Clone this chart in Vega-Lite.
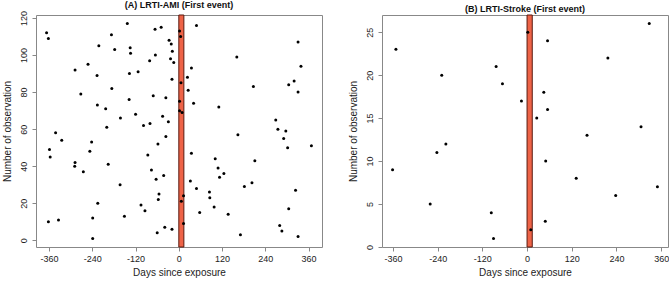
{
  "$schema": "https://vega.github.io/schema/vega-lite/v6.json",
  "padding": {"left": 1, "top": 0, "right": 1, "bottom": 0},
  "background": "white",
  "bounds": "flush",
  "spacing": 60,
  "datasets": {
    "band": [{"start": 0, "end": 14}],
    "a": [
      {"day": 49, "obs": 116}, {"day": -143, "obs": 117}, {"day": -49, "obs": 115}, {"day": -66, "obs": 114},
      {"day": 2, "obs": 113}, {"day": -367, "obs": 112}, {"day": -187, "obs": 111}, {"day": 5, "obs": 110},
      {"day": -362, "obs": 109}, {"day": -27, "obs": 108}, {"day": 331, "obs": 107}, {"day": -21, "obs": 106},
      {"day": -222, "obs": 105}, {"day": -135, "obs": 104}, {"day": -178, "obs": 103}, {"day": -18, "obs": 102},
      {"day": -134, "obs": 101}, {"day": -65, "obs": 100}, {"day": 161, "obs": 99}, {"day": -23, "obs": 98},
      {"day": -81, "obs": 97}, {"day": -14, "obs": 96}, {"day": -252, "obs": 95}, {"day": 339, "obs": 94},
      {"day": 35, "obs": 93}, {"day": -288, "obs": 92}, {"day": -113, "obs": 91}, {"day": -137, "obs": 90},
      {"day": -227, "obs": 89}, {"day": 24, "obs": 88}, {"day": -19, "obs": 87}, {"day": 320, "obs": 86},
      {"day": 6, "obs": 85}, {"day": 305, "obs": 84}, {"day": 207, "obs": 83}, {"day": -186, "obs": 82},
      {"day": 26, "obs": 81}, {"day": 331, "obs": 80}, {"day": -272, "obs": 79}, {"day": -71, "obs": 78},
      {"day": -36, "obs": 77}, {"day": -138, "obs": 76}, {"day": 2, "obs": 75}, {"day": 41, "obs": 74},
      {"day": -226, "obs": 73}, {"day": 111, "obs": 72}, {"day": -203, "obs": 71}, {"day": 2, "obs": 70},
      {"day": 9, "obs": 69}, {"day": -120, "obs": 68}, {"day": -45, "obs": 67}, {"day": -162, "obs": 66},
      {"day": 269, "obs": 65}, {"day": -29, "obs": 64}, {"day": -80, "obs": 63}, {"day": -98, "obs": 62},
      {"day": -200, "obs": 61}, {"day": 275, "obs": 60}, {"day": 297, "obs": 59}, {"day": -342, "obs": 58},
      {"day": 164, "obs": 57}, {"day": -36, "obs": 56}, {"day": 291, "obs": 55}, {"day": -325, "obs": 54},
      {"day": -242, "obs": 53}, {"day": -58, "obs": 52}, {"day": 368, "obs": 51}, {"day": 302, "obs": 50},
      {"day": -359, "obs": 49}, {"day": -247, "obs": 48}, {"day": 35, "obs": 47}, {"day": -86, "obs": 46},
      {"day": -357, "obs": 45}, {"day": 101, "obs": 44}, {"day": 211, "obs": 43}, {"day": -288, "obs": 42},
      {"day": -196, "obs": 41}, {"day": -289, "obs": 40}, {"day": 109, "obs": 39}, {"day": -76, "obs": 38},
      {"day": -265, "obs": 37}, {"day": 125, "obs": 36}, {"day": -42, "obs": 35}, {"day": 113, "obs": 34},
      {"day": -63, "obs": 33}, {"day": 32, "obs": 32}, {"day": 203, "obs": 31}, {"day": -163, "obs": 30},
      {"day": 182, "obs": 29}, {"day": 49, "obs": 28}, {"day": 324, "obs": 27}, {"day": 85, "obs": 26},
      {"day": -55, "obs": 25}, {"day": 13, "obs": 24}, {"day": 86, "obs": 23}, {"day": -57, "obs": 22},
      {"day": 7, "obs": 21}, {"day": -225, "obs": 20}, {"day": -105, "obs": 19}, {"day": 98, "obs": 18},
      {"day": 305, "obs": 17}, {"day": -94, "obs": 16}, {"day": 58, "obs": 15}, {"day": 137, "obs": 14},
      {"day": -151, "obs": 13}, {"day": -239, "obs": 12}, {"day": -334, "obs": 11}, {"day": -362, "obs": 10},
      {"day": 13, "obs": 9}, {"day": 280, "obs": 8}, {"day": -39, "obs": 7}, {"day": -19, "obs": 6},
      {"day": 286, "obs": 5}, {"day": -60, "obs": 4}, {"day": 171, "obs": 3}, {"day": 331, "obs": 2},
      {"day": -239, "obs": 1}
    ],
    "b": [
      {"day": 328, "obs": 26}, {"day": 2, "obs": 25}, {"day": 55, "obs": 24}, {"day": -352, "obs": 23},
      {"day": 217, "obs": 22}, {"day": -83, "obs": 21}, {"day": -229, "obs": 20}, {"day": -66, "obs": 19},
      {"day": 45, "obs": 18}, {"day": -15, "obs": 17}, {"day": 55, "obs": 16}, {"day": 26, "obs": 15},
      {"day": 306, "obs": 14}, {"day": 161, "obs": 13}, {"day": -218, "obs": 12}, {"day": -242, "obs": 11},
      {"day": 50, "obs": 10}, {"day": -361, "obs": 9}, {"day": 132, "obs": 8}, {"day": 350, "obs": 7},
      {"day": 238, "obs": 6}, {"day": -260, "obs": 5}, {"day": -96, "obs": 4}, {"day": 49, "obs": 3},
      {"day": 10, "obs": 2}, {"day": -90, "obs": 1}
    ]
  },
  "hconcat": [
    {
      "title": {"text": "(A) LRTI-AMI (First event)"},
      "width": 286,
      "height": 232,
      "layer": [
        {
          "data": {"name": "band"},
          "mark": {"type": "rect", "fill": "#EE6347", "stroke": "#5a1a10", "strokeWidth": 1},
          "encoding": {
            "x": {"field": "start", "type": "quantitative", "scale": {"domain": [-396.4, 397.4], "nice": false, "zero": false}},
            "x2": {"field": "end"}
          }
        },
        {
          "data": {"name": "a"},
          "mark": {"type": "circle", "size": 9, "color": "black", "opacity": 1},
          "encoding": {
            "x": {"field": "day", "type": "quantitative", "title": "Days since exposure",
                  "scale": {"domain": [-396.4, 397.4], "nice": false, "zero": false},
                  "axis": {"values": [-360, -300, -240, -180, -120, -60, 0, 60, 120, 180, 240, 300, 360],
                           "labelExpr": "indexof([-360, -240, -120, 0, 60, 120, 240, 360], datum.value) >= 0 ? '' + datum.value : ''"}},
            "y": {"field": "obs", "type": "quantitative", "title": "Number of observation",
                  "scale": {"domain": [-3.64, 121.64], "nice": false, "zero": false},
                  "axis": {"values": [0, 20, 40, 60, 80, 100, 120]}}
          }
        }
      ]
    },
    {
      "title": {"text": "(B) LRTI-Stroke (First event)"},
      "width": 286,
      "height": 232,
      "layer": [
        {
          "data": {"name": "band"},
          "mark": {"type": "rect", "fill": "#EE6347", "stroke": "#5a1a10", "strokeWidth": 1},
          "encoding": {
            "x": {"field": "start", "type": "quantitative", "scale": {"domain": [-389.4, 378.4], "nice": false, "zero": false}},
            "x2": {"field": "end"}
          }
        },
        {
          "data": {"name": "b"},
          "mark": {"type": "circle", "size": 9, "color": "black", "opacity": 1},
          "encoding": {
            "x": {"field": "day", "type": "quantitative", "title": "Days since exposure",
                  "scale": {"domain": [-389.4, 378.4], "nice": false, "zero": false},
                  "axis": {"values": [-360, -300, -240, -180, -120, -60, 0, 60, 120, 180, 240, 300, 360],
                           "labelExpr": "indexof([-360, -240, -120, 0, 60, 120, 240, 360], datum.value) >= 0 ? '' + datum.value : ''"}},
            "y": {"field": "obs", "type": "quantitative", "title": "Number of observation",
                  "scale": {"domain": [0, 27], "nice": false, "zero": false},
                  "axis": {"values": [0, 5, 10, 15, 20, 25]}}
          }
        }
      ]
    }
  ],
  "config": {
    "font": "Liberation Sans",
    "view": {"stroke": "#888888", "strokeWidth": 1},
    "title": {"font": "Liberation Sans", "fontSize": 9, "fontWeight": "bold", "color": "#111111", "offset": 1, "anchor": "middle"},
    "axis": {
      "grid": false,
      "domain": false,
      "tickColor": "#888888",
      "tickSize": 4,
      "labelFont": "Liberation Sans",
      "labelFontSize": 9,
      "labelColor": "#222222",
      "labelPadding": 4,
      "labelOverlap": false,
      "titleFont": "Liberation Sans",
      "titleFontSize": 10,
      "titleFontWeight": "normal",
      "titleColor": "#222222"
    },
    "axisX": {"labelPadding": 3, "titlePadding": 4},
    "axisY": {"labelAngle": -90, "labelAlign": "center", "labelBaseline": "bottom", "titlePadding": 7}
  }
}
